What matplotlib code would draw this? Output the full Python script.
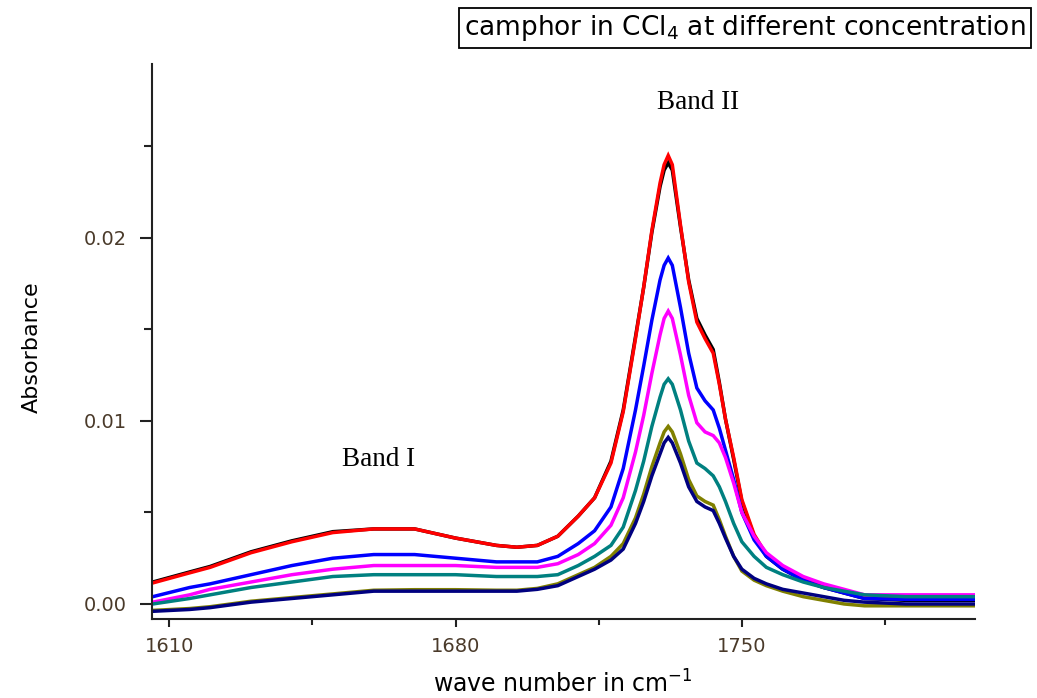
import matplotlib
matplotlib.use("Agg")
import matplotlib.pyplot as plt

# wave numbers (cm-1) at which the spectra were read
wavenumber = [1606, 1615, 1620, 1630, 1640, 1650, 1660, 1670, 1680, 1690, 1695, 1700,
              1705, 1710, 1714, 1718, 1721, 1724, 1726, 1728, 1730, 1731, 1732, 1733,
              1735, 1737, 1739, 1741, 1743, 1744.5, 1746, 1748, 1750, 1753, 1756, 1760,
              1765, 1770, 1775, 1780, 1790, 1800, 1807]

abs_black = [0.0012, 0.00175, 0.00205, 0.00285, 0.00345, 0.00395, 0.0041, 0.0041, 0.0036, 0.0032, 0.0031, 0.0032,
             0.0037, 0.0048, 0.0058, 0.0078, 0.0106, 0.0146, 0.0173, 0.0203, 0.0228, 0.0237, 0.0241, 0.0237,
             0.0206, 0.0177, 0.0156, 0.0147, 0.0139, 0.0121, 0.0101, 0.0079, 0.0056, 0.0037, 0.0026, 0.0019,
             0.0013, 0.0009, 0.0006, 0.0003, 0.0002, 0.0002, 0.0002]
abs_red = [0.00115, 0.0017, 0.0020, 0.0028, 0.0034, 0.0039, 0.0041, 0.0041, 0.0036, 0.0032, 0.0031, 0.0032,
           0.0037, 0.0048, 0.0058, 0.0077, 0.0105, 0.0145, 0.0173, 0.0204, 0.0230, 0.0240, 0.0245, 0.0240,
           0.0207, 0.0176, 0.0154, 0.0145, 0.0137, 0.0120, 0.0101, 0.0080, 0.0057, 0.0038, 0.0027, 0.0020,
           0.0014, 0.0010, 0.0007, 0.0004, 0.0003, 0.0003, 0.0003]
abs_blue = [0.0004, 0.0009, 0.0011, 0.0016, 0.0021, 0.0025, 0.0027, 0.0027, 0.0025, 0.0023, 0.0023, 0.0023,
            0.0026, 0.0033, 0.0040, 0.0053, 0.0074, 0.0106, 0.0130, 0.0155, 0.0177, 0.0185, 0.0189, 0.0185,
            0.0162, 0.0137, 0.0118, 0.0111, 0.0106, 0.0096, 0.0084, 0.0068, 0.0050, 0.0035, 0.0026, 0.0019,
            0.0013, 0.0009, 0.0006, 0.0003, 0.00025, 0.00025, 0.00025]
abs_magenta = [0.0001, 0.0005, 0.0008, 0.0012, 0.0016, 0.0019, 0.0021, 0.0021, 0.0021, 0.0020, 0.0020, 0.0020,
               0.0022, 0.0027, 0.0033, 0.0043, 0.0058, 0.0083, 0.0103, 0.0126, 0.0147, 0.0156, 0.0160, 0.0156,
               0.0136, 0.0114, 0.0099, 0.0094, 0.0092, 0.0088, 0.0080, 0.0066, 0.0050, 0.0037, 0.0028, 0.0021,
               0.0015, 0.0011, 0.0008, 0.0005, 0.0005, 0.0005, 0.0005]
abs_teal = [0.0, 0.0003, 0.0005, 0.0009, 0.0012, 0.0015, 0.0016, 0.0016, 0.0016, 0.0015, 0.0015, 0.0015,
            0.0016, 0.0021, 0.0026, 0.0032, 0.0042, 0.0062, 0.0078, 0.0097, 0.0113, 0.0120, 0.0123, 0.0120,
            0.0106, 0.0089, 0.0077, 0.0074, 0.0070, 0.0064, 0.0056, 0.0044, 0.0034, 0.0026, 0.0020, 0.0016,
            0.0012, 0.0009, 0.0007, 0.0005, 0.0004, 0.0004, 0.0004]
abs_olive = [-0.00035, -0.00025, -0.00015, 0.00015, 0.00035, 0.00055, 0.00075, 0.00078, 0.00078, 0.00075, 0.00075, 0.00085,
             0.0011, 0.0016, 0.0020, 0.0026, 0.0033, 0.0047, 0.0060, 0.0075, 0.0088, 0.0094, 0.0097, 0.0094,
             0.0082, 0.0068, 0.0059, 0.0056, 0.0054, 0.0046, 0.0037, 0.0026, 0.0018, 0.0013, 0.0010, 0.0007,
             0.0004, 0.0002, 0.0, -0.0001, -0.0001, -0.0001, -0.0001]
abs_navy = [-0.0004, -0.0003, -0.0002, 0.0001, 0.0003, 0.0005, 0.0007, 0.0007, 0.0007, 0.0007, 0.0007, 0.0008,
            0.0010, 0.0015, 0.0019, 0.0024, 0.0030, 0.0044, 0.0056, 0.0070, 0.0082, 0.0088, 0.0091, 0.0088,
            0.0077, 0.0064, 0.0056, 0.0053, 0.0051, 0.0044, 0.0036, 0.0026, 0.0019, 0.0014, 0.0011, 0.0008,
            0.0006, 0.0004, 0.0002, 0.0001, 0.0, 0.0, 0.0]

series = [(abs_black, "#000000"), (abs_red, "#ff0000"), (abs_blue, "#0000ff"),
          (abs_magenta, "#ff00ff"), (abs_teal, "#008080"), (abs_olive, "#808000"),
          (abs_navy, "#000080")]

x_major = [1610, 1680, 1750]
x_minor = [1645, 1715, 1785]
y_major = [0.0, 0.01, 0.02]
y_labels = ["0.00", "0.01", "0.02"]
y_minor = [0.005, 0.015, 0.025]

plt.rcParams["mathtext.default"] = "regular"
plt.rcParams["font.family"] = ["DejaVu Sans"]

fig = plt.figure(figsize=(10.37, 6.98), dpi=100)
ax = fig.add_axes([0.1466, 0.1132, 0.7936, 0.7951])

for vals, col in series:
    ax.plot(wavenumber, vals, color=col, lw=2.5, solid_joinstyle="miter")

ax.set_xlim(1605.8, 1807.0)
ax.set_ylim(-0.00082, 0.0295)

for side in ["top", "right"]:
    ax.spines[side].set_visible(False)
for side in ["left", "bottom"]:
    ax.spines[side].set_linewidth(1.5)
    ax.spines[side].set_color("#222222")

tick_col = "#4a3a2a"
ax.set_xticks(x_major)
ax.set_xticks(x_minor, minor=True)
ax.set_yticks(y_major)
ax.set_yticklabels(y_labels)
ax.set_yticks(y_minor, minor=True)
ax.tick_params(axis="x", which="major", length=6, width=1.5, color="#222222",
               pad=7, labelsize=14, labelcolor=tick_col)
ax.tick_params(axis="x", which="minor", length=4, width=1.5, color="#222222")
ax.tick_params(axis="y", which="major", length=9, width=1.5, color="#222222",
               pad=9, labelsize=14, labelcolor=tick_col)
ax.tick_params(axis="y", which="minor", length=6, width=1.5, color="#222222")

ax.set_xlabel("wave number in cm$^{-1}$", fontsize=17)
ax.xaxis.set_label_coords(0.499, -0.092)
ax.set_ylabel("Absorbance", fontsize=16)
ax.yaxis.set_label_coords(-0.134, 0.49)

ax.text(1661.1, 0.0079, "Band I", fontsize=19.5, family="Liberation Serif",
        ha="center", va="center")
ax.text(1739.3, 0.0274, "Band II", fontsize=19.5, family="Liberation Serif",
        ha="center", va="center")

fig.text(0.4475, 0.9599, "camphor in CCl$_4$ at different concentration",
         fontsize=19, ha="left", va="center",
         bbox=dict(boxstyle="square,pad=0.2", fc="white", ec="black", lw=1.3))

fig.savefig("out.png", dpi=100)
